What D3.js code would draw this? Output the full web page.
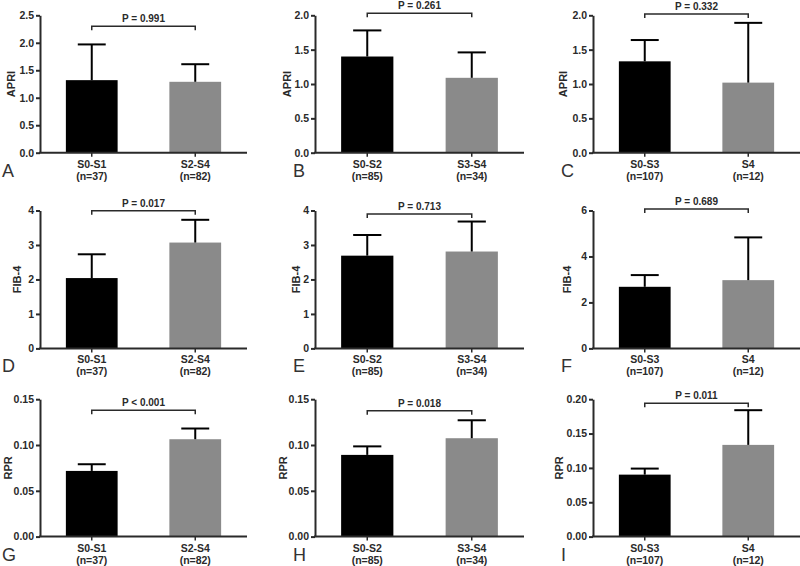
<!DOCTYPE html>
<html>
<head>
<meta charset="utf-8">
<script src="https://cdn.jsdelivr.net/npm/d3@7"></script>
<style>
  html, body { margin: 0; padding: 0; background: #fff; }
  svg { display: block; }
  text { font-family: "Liberation Sans", Arial, sans-serif; }
</style>
</head>
<body>
<svg id="chart" width="800" height="566"></svg>
<script>
// ---- data ----
const panelLetters = ["A","B","C","D","E","F","G","H","I"];
const metrics = ["APRI","APRI","APRI","FIB-4","FIB-4","FIB-4","RPR","RPR","RPR"];
const categories = [
  ["S0-S1","S2-S4"],["S0-S2","S3-S4"],["S0-S3","S4"],
  ["S0-S1","S2-S4"],["S0-S2","S3-S4"],["S0-S3","S4"],
  ["S0-S1","S2-S4"],["S0-S2","S3-S4"],["S0-S3","S4"]
];
const counts = [
  ["(n=37)","(n=82)"],["(n=85)","(n=34)"],["(n=107)","(n=12)"],
  ["(n=37)","(n=82)"],["(n=85)","(n=34)"],["(n=107)","(n=12)"],
  ["(n=37)","(n=82)"],["(n=85)","(n=34)"],["(n=107)","(n=12)"]
];
const means = [
  [1.32,1.29],[1.40,1.09],[1.33,1.02],
  [2.04,3.07],[2.69,2.81],[2.68,2.97],
  [0.0717,0.1063],[0.0892,0.1074],[0.0902,0.1335]
];
const errorTops = [
  [1.97,1.61],[1.78,1.46],[1.64,1.89],
  [2.73,3.73],[3.29,3.68],[3.19,4.83],
  [0.079,0.118],[0.0985,0.127],[0.099,0.184]
];
const pLabels = ["P = 0.991","P = 0.261","P = 0.332","P = 0.017","P = 0.713","P = 0.689","P < 0.001","P = 0.018","P = 0.011"];
const bracketValues = [2.30,2.03,2.02,3.99,3.90,6.07,0.138,0.1375,0.194];
const yTicks = [
  [0,0.5,1,1.5,2,2.5],[0,0.5,1,1.5,2],[0,0.5,1,1.5,2],
  [0,1,2,3,4],[0,1,2,3,4],[0,2,4,6],
  [0,0.05,0.10,0.15],[0,0.05,0.10,0.15],[0,0.05,0.10,0.15,0.20]
];
const tickDecimals = [1,1,1,0,0,0,2,2,2];
const barColors = ["#000000","#8a8a8a"];

// ---- layout ----
const colX = [[40,247],[315,524],[593,800]];
const rowY = [[15.3,152.7],[210.5,348.4],[399.2,536.6]];
const letterX = [2,293,561];
const titleX = [11,287,563,17,296,567,8,283,559];

const svg = d3.select("#chart");
const ink = "#2a2a2a";

panelLetters.forEach((letter, i) => {
  const col = i % 3, row = Math.floor(i / 3);
  const [x0, x1] = colX[col];
  const [yTop, yBot] = rowY[row];
  const yMax = yTicks[i][yTicks[i].length - 1];
  const y = d3.scaleLinear().domain([0, yMax]).range([yBot, yTop]);
  const x = d3.scaleBand().domain(categories[i]).range([x0, x1]).paddingInner(0.5).paddingOuter(0.25);
  const g = svg.append("g");

  // bars
  g.selectAll("rect.bar").data(categories[i]).enter().append("rect")
    .attr("x", d => x(d)).attr("width", x.bandwidth())
    .attr("y", (d, j) => y(means[i][j]))
    .attr("height", (d, j) => yBot - y(means[i][j]))
    .attr("fill", (d, j) => barColors[j]);

  // error bars
  const capHalf = x.bandwidth() * 0.27;
  categories[i].forEach((c, j) => {
    const cx = x(c) + x.bandwidth() / 2;
    g.append("line").attr("x1", cx).attr("x2", cx)
      .attr("y1", y(means[i][j])).attr("y2", y(errorTops[i][j]))
      .attr("stroke", "#000").attr("stroke-width", 2);
    g.append("line").attr("x1", cx - capHalf).attr("x2", cx + capHalf)
      .attr("y1", y(errorTops[i][j])).attr("y2", y(errorTops[i][j]))
      .attr("stroke", "#000").attr("stroke-width", 2);
  });

  // y axis
  const fmt = d3.format("." + tickDecimals[i] + "f");
  const ax = g.append("g").attr("transform", `translate(${x0},0)`)
    .call(d3.axisLeft(y).tickValues(yTicks[i]).tickFormat(fmt).tickSize(4).tickSizeOuter(0).tickPadding(2));
  ax.select(".domain").attr("stroke", ink).attr("stroke-width", 2);
  ax.selectAll(".tick line").attr("stroke", ink).attr("stroke-width", 2);
  ax.selectAll(".tick text").attr("fill", ink).style("font-size", "10.5px").style("font-weight", "bold")
    .style("font-family", "'Liberation Sans', Arial, sans-serif");

  // x axis line + ticks
  g.append("line").attr("x1", x0 - 1).attr("x2", x1).attr("y1", yBot).attr("y2", yBot)
    .attr("stroke", ink).attr("stroke-width", 2);
  categories[i].forEach(c => {
    const cx = x(c) + x.bandwidth() / 2;
    g.append("line").attr("x1", cx).attr("x2", cx).attr("y1", yBot).attr("y2", yBot + 4)
      .attr("stroke", ink).attr("stroke-width", 1.5);
  });

  // category labels
  categories[i].forEach((c, j) => {
    const cx = x(c) + x.bandwidth() / 2;
    g.append("text").attr("x", cx).attr("y", yBot + 15).attr("text-anchor", "middle")
      .attr("fill", ink).style("font-size", "10.5px").style("font-weight", "bold").text(c);
    g.append("text").attr("x", cx).attr("y", yBot + 27).attr("text-anchor", "middle")
      .attr("fill", ink).style("font-size", "10.5px").style("font-weight", "bold").text(counts[i][j]);
  });

  // y title
  const ty = (yTop + yBot) / 2;
  g.append("text").attr("transform", `translate(${titleX[i] + 4},${ty}) rotate(-90)`)
    .attr("text-anchor", "middle").attr("fill", ink)
    .style("font-size", "11px").style("font-weight", "bold").text(metrics[i]);

  // bracket
  const bx1 = x(categories[i][0]) + x.bandwidth() / 2;
  const bx2 = x(categories[i][1]) + x.bandwidth() / 2;
  const by = y(bracketValues[i]);
  g.append("path").attr("d", `M${bx1},${by + 4}V${by}H${bx2}V${by + 4}`)
    .attr("fill", "none").attr("stroke", ink).attr("stroke-width", 1.5);
  g.append("text").attr("x", (bx1 + bx2) / 2).attr("y", by - 4).attr("text-anchor", "middle")
    .attr("fill", ink).style("font-size", "10px").style("font-weight", "bold").text(pLabels[i]);

  // panel letter
  g.append("text").attr("x", letterX[col]).attr("y", yBot + 24)
    .attr("fill", "#333").style("font-size", "18px").text(letter);
});
</script>
</body>
</html>
